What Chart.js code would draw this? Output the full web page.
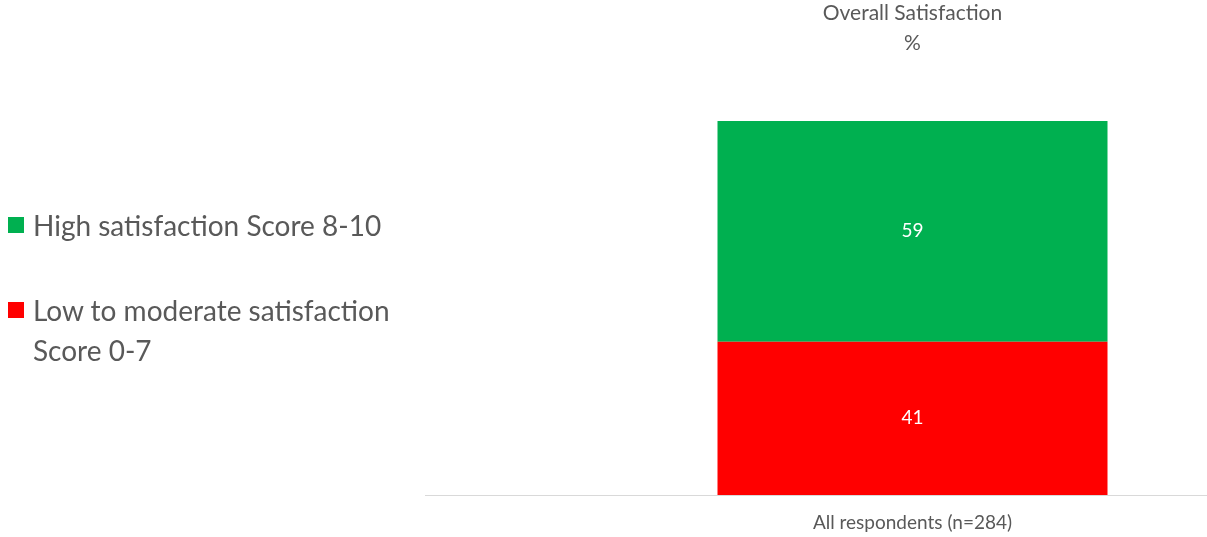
<!DOCTYPE html>
<html>
<head>
<meta charset="utf-8">
<script src="https://cdn.jsdelivr.net/npm/chart.js@4.4.1/dist/chart.umd.min.js"></script>
<style>
    html, body { margin: 0; padding: 0; background: #fff; overflow: hidden; }
    body { width: 1207px; height: 537px; position: relative; }
    .chart-wrap { position: absolute; left: 0; top: 0; width: 1400px; height: 537px; }
    .legend { position: absolute; left: 8px; top: 205px; font-family: Lato, sans-serif; font-size: 28px; color: #595959; }
    .legend-item { display: flex; align-items: flex-start; line-height: 40px; margin-bottom: 45px; }
    .legend-item .swatch { width: 16px; height: 16px; margin-top: 12px; margin-right: 9px; flex: none; }
</style>
</head>
<body>
<div class="chart-wrap"><canvas id="chart"></canvas></div>
<div class="legend" id="legend"></div>
<script>
// Data
const categories = ['All respondents (n=284)'];
const seriesNames = ['Low to moderate satisfaction Score 0-7', 'High satisfaction Score 8-10'];
const legendLines = [['High satisfaction Score 8-10'], ['Low to moderate satisfaction', 'Score 0-7']];
const lowValues = [41];
const highValues = [59];
const titleLines = ['Overall Satisfaction', '%'];

const GREEN = '#00B050';
const RED = '#FF0000';
const TEXT = '#595959';

// white value labels centred in each stacked segment
const barLabels = {
    id: 'barLabels',
    afterDatasetsDraw(chart) {
        const { ctx } = chart;
        ctx.save();
        ctx.fillStyle = '#ffffff';
        ctx.font = '19px Lato, sans-serif';
        ctx.textAlign = 'center';
        ctx.textBaseline = 'middle';
        chart.data.datasets.forEach((ds, i) => {
            chart.getDatasetMeta(i).data.forEach((bar, j) => {
                const mid = (bar.y + bar.base) / 2;
                ctx.fillText(String(ds.data[j]), bar.x, mid);
            });
        });
        ctx.restore();
    }
};

new Chart(document.getElementById('chart'), {
    type: 'bar',
    data: {
        labels: categories,
        datasets: [
            { label: seriesNames[0], data: lowValues, backgroundColor: RED },
            { label: seriesNames[1], data: highValues, backgroundColor: GREEN },
        ]
    },
    options: {
        responsive: true,
        maintainAspectRatio: false,
        animation: false,
        layout: { padding: { left: 425, right: 0, top: -2, bottom: 0 } },
        barPercentage: 1,
        categoryPercentage: 0.4,
        plugins: {
            legend: { display: false },
            tooltip: { enabled: false },
            title: {
                display: true,
                text: titleLines,
                color: TEXT,
                font: { family: 'Lato, sans-serif', size: 21, weight: 'normal', lineHeight: '30px' },
                padding: { top: 0, bottom: 63 },
            }
        },
        scales: {
            x: {
                stacked: true,
                grid: { display: false, drawTicks: false },
                border: { display: true, color: '#d9d9d9', width: 1 },
                ticks: { color: TEXT, font: { family: 'Lato, sans-serif', size: 19 }, padding: 16 },
                afterFit(scale) { scale.height = 42; }
            },
            y: {
                stacked: true,
                display: false,
                min: 0,
                max: 100,
            }
        }
    },
    plugins: [barLabels]
});

// HTML legend on the left
const colors = [GREEN, RED];
document.getElementById('legend').innerHTML = legendLines.map((lines, i) =>
    `<div class="legend-item"><span class="swatch" style="background:${colors[i]}"></span><span>${lines.join('<br>')}</span></div>`
).join('');
</script>
</body>
</html>
